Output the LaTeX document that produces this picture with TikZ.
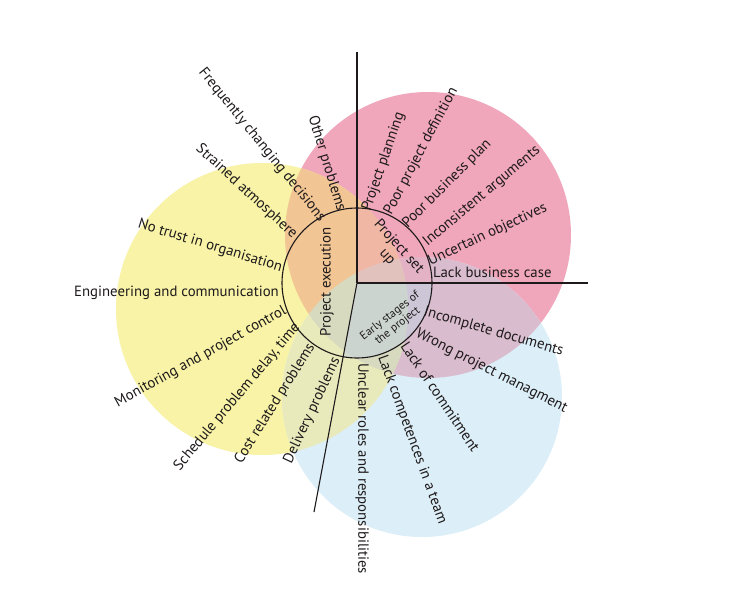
\documentclass[tikz,border=0pt]{standalone}
\usepackage{fontspec}
\setmainfont{PT Sans}
\definecolor{cpink}{HTML}{F0A6BB}
\definecolor{cyel}{HTML}{F8F3A6}
\definecolor{cblue}{HTML}{DCEEF7}
\definecolor{cpy}{HTML}{F2C594}
\definecolor{cpb}{HTML}{D9BCCE}
\definecolor{cyb}{HTML}{E9EABB}
\definecolor{cpyb}{HTML}{D7DABF}
\definecolor{cearly}{HTML}{C3D0DE}
\definecolor{ink}{HTML}{1E1A1B}
\tikzset{
  lbl/.style={font=\fontsize{14.8}{15.5}\selectfont, text=ink, inner sep=0pt, text height=10.4pt, text depth=3pt},
  outl/.style={lbl, anchor=west},
  inl/.style={lbl, anchor=east},
  axis/.style={draw=ink, line width=1.1pt},
  ring/.style={circle, draw=ink, line width=1.1pt, minimum size=150pt, inner sep=0pt}
}
\begin{document}
\begin{tikzpicture}[x=1pt,y=-1pt]
\path[use as bounding box, fill=white] (0,0) rectangle (756,600);
\coordinate (P) at (428,235);
\coordinate (Y) at (262,309);
\coordinate (B) at (422,397);
\coordinate (C) at (357,283);
% base circles
\fill[cpink] (P) circle[radius=143pt];
\fill[cyel] (Y) circle[radius=146pt];
\fill[cblue] (B) circle[radius=140pt];
% overlaps
\begin{scope}\clip (P) circle[radius=143pt]; \fill[cpy] (Y) circle[radius=146pt];\end{scope}
\begin{scope}\clip (P) circle[radius=143pt]; \fill[cpb] (B) circle[radius=140pt];\end{scope}
\begin{scope}\clip (Y) circle[radius=146pt]; \fill[cyb] (B) circle[radius=140pt];\end{scope}
\begin{scope}\clip (P) circle[radius=143pt]; \clip (Y) circle[radius=146pt]; \fill[cpyb] (B) circle[radius=140pt];\end{scope}
% inner sector tints
\fill[cearly, opacity=.55] (C) -- +(0:75pt) arc[start angle=0, end angle=-100.6, radius=75pt] -- cycle;
\fill[cpink, opacity=.45] (C) -- +(0:75pt) arc[start angle=0, end angle=90, radius=75pt] -- cycle;
% axes
\node[ring] (inner) at (C) {};
\coordinate (top) at (357,52);
\coordinate (right) at (588,283);
\coordinate (low) at (314,512);
\draw[axis] (inner.center) -- (top);
\draw[axis] (inner.center) -- (right);
\draw[axis] (inner.center) -- (low);
% inner labels
\node[lbl, rotate=90] (exec) at (327,282) {Project execution};
\node[lbl, rotate=-48, align=center, text height=, text depth=] (setup) at (393,252) {Project set\\up};
\node[lbl, rotate=38, align=center, text height=, text depth=, font=\fontsize{11.5}{12.5}\selectfont] (early) at (394,321) {Early stages of\\the project};
% right side labels (outward)
\node[outl, rotate=71] (l1) at (366.7,210.8) {Project planning};
\node[outl, rotate=62] (l2) at (388,213.5) {Poor project definition};
\node[outl, rotate=45] (l3) at (405,226) {Poor business plan};
\node[outl, rotate=40] (l4) at (425,244) {Inconsistent arguments};
\node[outl, rotate=25] (l5) at (429,262) {Uncertain objectives};
\node[outl, rotate=0] (l6) at (433,274) {Lack business case};
\node[outl, rotate=-16] (l7) at (424,312) {Incomplete documents};
\node[outl, rotate=-27] (l8) at (416.5,333) {Wrong project managment};
\node[outl, rotate=-56] (l9) at (403,344) {Lack of commitment};
\node[outl, rotate=-70] (l10) at (381.6,356) {Lack competences in a team};
\node[outl, rotate=-90] (l11) at (362,363) {Unclear roles and responsibilities};
% left side labels (inward)
\node[inl, rotate=65] (l12) at (336.7,358.4) {Delivery problems};
\node[inl, rotate=58] (l13) at (312,344.6) {Cost related problems};
\node[inl, rotate=50] (l14) at (297.6,325) {Schedule problem delay, time};
\node[inl, rotate=29] (l15) at (285.5,310) {Monitoring and project control};
\node[inl, rotate=0] (l16) at (279,293) {Engineering and communication};
\node[inl, rotate=-17] (l17) at (282,268) {No trust in organisation};
\node[inl, rotate=-42.5] (l18) at (295,236) {Strained atmosphere};
\node[inl, rotate=-51] (l19) at (322.5,220) {Frequently changing decisions};
\node[inl, rotate=-73] (l20) at (341,211) {Other problems};
\end{tikzpicture}
\end{document}
